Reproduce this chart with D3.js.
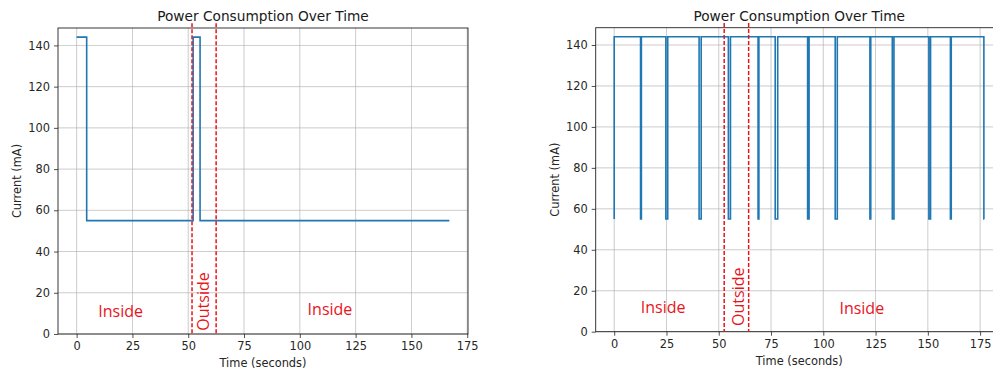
<!DOCTYPE html>
<html><head><meta charset="utf-8">
<script src="https://cdn.jsdelivr.net/npm/d3@7"></script>
<style>
html,body{margin:0;padding:0;background:#fff;overflow:hidden}
svg{display:block}
text{font-family:"DejaVu Sans",sans-serif}
</style></head>
<body>
<svg id="chart" width="993" height="374"></svg>
<script>
// ---- data ----
const title = "Power Consumption Over Time";
const xLabel = "Time (seconds)";
const yLabel = "Current (mA)";
const xTicks = [0, 25, 50, 75, 100, 125, 150, 175];
const yTicks = [0, 20, 40, 60, 80, 100, 120, 140];

// left panel: step series
const leftTimes   = [0,   4.5, 52.2, 55.3, 167];
const leftCurrent = [144, 55,  144,  55,   55];
const leftOutside = [51.7, 62.5];

// right panel: step series
const rightTimes = [0, 0, 12.6, 13.0, 24.7, 25.6, 40.6, 41.6, 54.6, 55.6, 68.8, 69.2,
  77.0, 78.2, 92.5, 93.2, 105.7, 106.7, 122.3, 122.7, 133.0, 133.8, 150.5, 151.3,
  160.8, 161.2, 176.8, 177];
const rightCurrent = [55, 144, 55, 144, 55, 144, 55, 144, 55, 144, 55, 144,
  55, 144, 55, 144, 55, 144, 55, 144, 55, 144, 55, 144,
  55, 144, 55, 55];
const rightOutside = [52.6, 64.3];

// annotation labels (data coords)
const leftLabels  = [{t:"Inside", x:19.7, y:11.3, r:0}, {t:"Outside", x:56.7, y:15.8, r:-90}, {t:"Inside", x:113.5, y:12.1, r:0}];
const rightLabels = [{t:"Inside", x:23.4, y:11.9, r:0}, {t:"Outside", x:59.0, y:17.1, r:-90}, {t:"Inside", x:118.4, y:11.4, r:0}];

const svg = d3.select("#chart");
const blue = "#1f77b4", red = "#e8141c";

function panel(cfg){
  const x = d3.scaleLinear().domain(cfg.xdom).range([cfg.left, cfg.right]);
  const y = d3.scaleLinear().domain([0, 148.45]).range([cfg.bottom, cfg.top]);
  const g = svg.append("g");
  // grid
  g.append("g").selectAll("line").data(xTicks).join("line")
    .attr("x1", d=>x(d)).attr("x2", d=>x(d)).attr("y1", cfg.top).attr("y2", cfg.bottom)
    .attr("stroke", "#b0b0b0").attr("stroke-width", 0.8).attr("opacity", 0.8);
  g.append("g").selectAll("line").data(yTicks).join("line")
    .attr("y1", d=>y(d)).attr("y2", d=>y(d)).attr("x1", cfg.left).attr("x2", cfg.right)
    .attr("stroke", "#b0b0b0").attr("stroke-width", 0.8).attr("opacity", 0.8);
  // axes
  const xa = g.append("g").attr("transform", `translate(0,${cfg.bottom})`)
    .call(d3.axisBottom(x).tickValues(xTicks).tickSize(4).tickPadding(4).tickFormat(d3.format("d")));
  const ya = g.append("g").attr("transform", `translate(${cfg.left},0)`)
    .call(d3.axisLeft(y).tickValues(yTicks).tickSize(4).tickPadding(4).tickFormat(d3.format("d")));
  [xa, ya].forEach(a => {
    a.select(".domain").remove();
    a.selectAll(".tick line").attr("stroke", "#222").attr("stroke-width", 0.8);
    a.selectAll(".tick text").attr("fill", "#262626").style("font-size", "11.4px").style("font-family", "DejaVu Sans");
  });
  // frame
  g.append("rect").attr("x", cfg.left).attr("y", cfg.top)
    .attr("width", cfg.right - cfg.left).attr("height", cfg.bottom - cfg.top)
    .attr("fill", "none").attr("stroke", "#222").attr("stroke-width", 0.9);
  // line
  const pts = cfg.times.map((t,i)=>[t, cfg.vals[i]]);
  g.append("path").datum(pts)
    .attr("d", d3.line().x(d=>x(d[0])).y(d=>y(d[1])).curve(d3.curveStepAfter))
    .attr("fill", "none").attr("stroke", blue).attr("stroke-width", 1.6);
  // outside region lines
  g.append("g").selectAll("line").data(cfg.outside).join("line")
    .attr("x1", d=>x(d)).attr("x2", d=>x(d)).attr("y1", y(150.8)).attr("y2", y(0))
    .attr("stroke", red).attr("stroke-width", 1.5).attr("stroke-dasharray", "4,2");
  // labels
  g.append("g").selectAll("text").data(cfg.labels).join("text")
    .attr("transform", d=>`translate(${x(d.x)},${y(d.y)}) rotate(${d.r})`)
    .attr("text-anchor", "middle").attr("dominant-baseline", "central")
    .style("font-family", "'Open Sans', sans-serif").style("font-size", "16px")
    .attr("fill", red).text(d=>d.t);
  // title & axis labels
  const cx = (cfg.left + cfg.right) / 2;
  g.append("text").attr("x", cx).attr("y", cfg.top - 7).attr("text-anchor", "middle")
    .style("font-size", "13.7px").attr("fill", "#1a1a1a").text(title);
  g.append("text").attr("x", cx).attr("y", cfg.bottom + 33).attr("text-anchor", "middle")
    .style("font-size", "11.4px").attr("fill", "#262626").text(xLabel);
  g.append("text").attr("transform", `translate(${cfg.ylabX},${(cfg.top+cfg.bottom)/2}) rotate(-90)`)
    .attr("text-anchor", "middle").attr("dominant-baseline", "central")
    .style("font-size", "11.4px").attr("fill", "#262626").text(yLabel);
}

panel({xdom:[-8.35, 175.35], left:58, right:468, top:28, bottom:334,
  times:leftTimes, vals:leftCurrent, outside:leftOutside, labels:leftLabels, ylabX:17});
panel({xdom:[-8.85, 185.85], left:595.7, right:1002.8, top:27.7, bottom:331.7,
  times:rightTimes, vals:rightCurrent, outside:rightOutside, labels:rightLabels, ylabX:555});
</script>
</body></html>
